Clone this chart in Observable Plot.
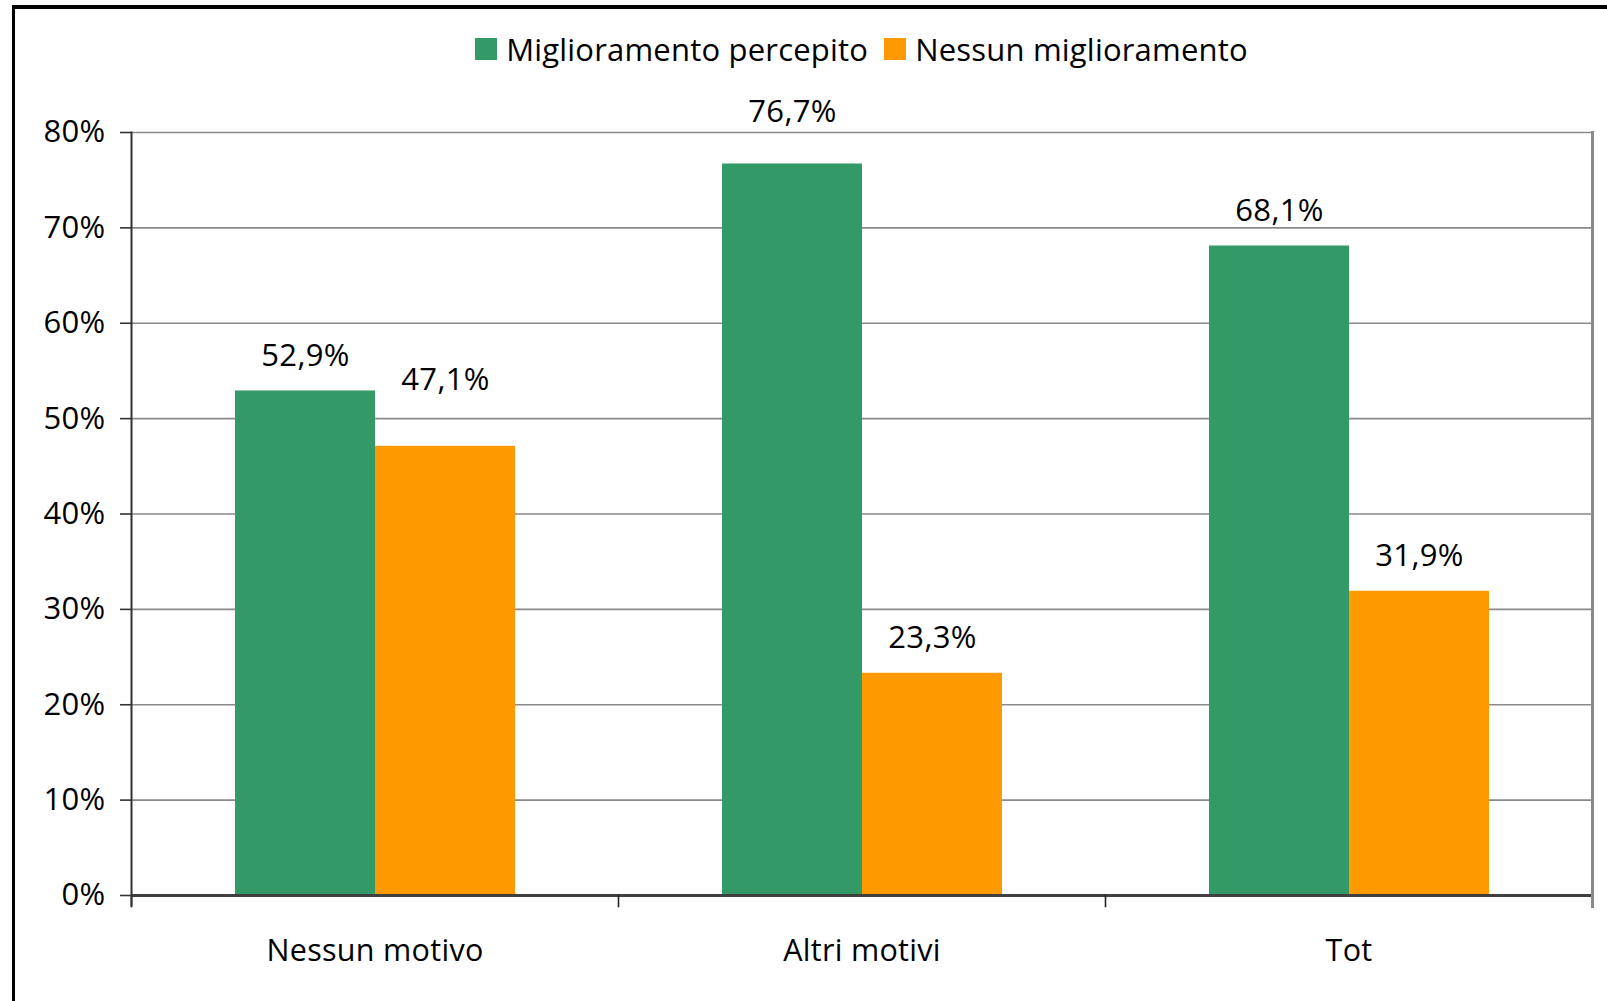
<!DOCTYPE html>
<html>
<head>
<meta charset="utf-8">
<script src="https://cdn.jsdelivr.net/npm/d3@7"></script>
<script src="https://cdn.jsdelivr.net/npm/@observablehq/plot@0.6"></script>
<style>
  html, body { margin: 0; padding: 0; background: #fff; }
  #wrap { position: relative; width: 1607px; height: 1001px; overflow: hidden; font-family: "Open Sans", sans-serif; }
  #border { position: absolute; left: 12px; top: 5px; width: 3000px; height: 3000px;
            border-left: 3px solid #000; border-top: 4px solid #000; pointer-events: none; z-index: 5; }
  #legend { position: relative; height: 90px; display: flex; justify-content: center; align-items: flex-start;
            padding-left: 131px; padding-right: 15px; box-sizing: border-box; gap: 16px; }
  .item { margin-top: 38px; display: flex; align-items: center; height: 22px; font-size: 31px; line-height: 22px; color: #000; white-space: nowrap; letter-spacing: 0.2px; }
  .sw { width: 22px; height: 22px; margin-right: 9px; flex: none; }
  #chart svg { display: block; }
</style>
</head>
<body>
<div id="wrap">
  <div id="border"></div>
  <div id="legend"></div>
  <div id="chart"></div>
</div>
<script>
const categories = ["Nessun motivo", "Altri motivi", "Tot"];
const series = ["Miglioramento percepito", "Nessun miglioramento"];
const colors = ["#339966", "#FF9900"];
const miglioramento = [52.9, 76.7, 68.1];
const nessunMiglioramento = [47.1, 23.3, 31.9];
const yTicks = [0, 10, 20, 30, 40, 50, 60, 70, 80];

const rows = categories.flatMap((c, i) => [
  {category: c, series: series[0], value: miglioramento[i]},
  {category: c, series: series[1], value: nessunMiglioramento[i]}
]);
const fmt = v => v.toFixed(1).replace(".", ",") + "%";

// legend
const legend = document.getElementById("legend");
series.forEach((s, i) => {
  const it = document.createElement("div");
  it.className = "item";
  const sw = document.createElement("div");
  sw.className = "sw";
  sw.style.background = colors[i];
  const tx = document.createElement("span");
  tx.textContent = s;
  it.appendChild(sw); it.appendChild(tx);
  legend.appendChild(it);
});

const isHigh = d => d.category === categories[1] && d.series === series[0];
const isHigher = d => d.category === categories[0] && d.series === series[1];
const isNormal = d => !isHigh(d) && !isHigher(d);

const textOpts = {fx: "category", x: "series", y: "value", text: d => fmt(d.value), fill: "#000", fontSize: 31};

const chart = Plot.plot({
  width: 1607,
  height: 911,
  marginLeft: 131,
  marginRight: 15,
  marginTop: 42,
  marginBottom: 106,
  style: {fontFamily: '"Open Sans", sans-serif', fontSize: "31px", letterSpacing: "0.3px", background: "transparent", color: "#000", overflow: "visible"},
  fx: {domain: categories, padding: 0},
  x: {domain: series, paddingInner: 0, paddingOuter: 0.739, axis: null},
  y: {domain: [0, 80]},
  color: {domain: series, range: colors},
  marks: [
    Plot.gridY(yTicks.filter(d => d > 0), {stroke: "#8a8a8a", strokeOpacity: 1, strokeWidth: 1.6}),
    Plot.barY(rows, {fx: "category", x: "series", y: "value", fill: "series"}),
    Plot.ruleY([0], {stroke: "#404040", strokeWidth: 3}),
    Plot.frame({anchor: "right", facetAnchor: "right", stroke: "#8a8a8a", strokeWidth: 3, insetBottom: -11}),
    Plot.frame({anchor: "left", stroke: "#222", strokeWidth: 1.6, insetTop: 763, insetBottom: -11}),
    Plot.frame({anchor: "left", facetAnchor: "left", stroke: "#333", strokeWidth: 2, insetBottom: -10}),
    Plot.axisY(yTicks, {tickFormat: d => d + "%", tickSize: 11, tickPadding: 15, label: null, stroke: "#333", strokeWidth: 1.6, fill: "#000", fontSize: 31}),
    Plot.axisFx({anchor: "bottom", label: null, tickSize: 0, tickPadding: 44, fill: "#000", fontSize: 30.5}),
    Plot.text(rows.filter(isNormal), {...textOpts, dy: -35}),
    Plot.text(rows.filter(isHigh), {...textOpts, dy: -52}),
    Plot.text(rows.filter(isHigher), {...textOpts, dy: -66})
  ]
});
document.getElementById("chart").appendChild(chart);
</script>
</body>
</html>
